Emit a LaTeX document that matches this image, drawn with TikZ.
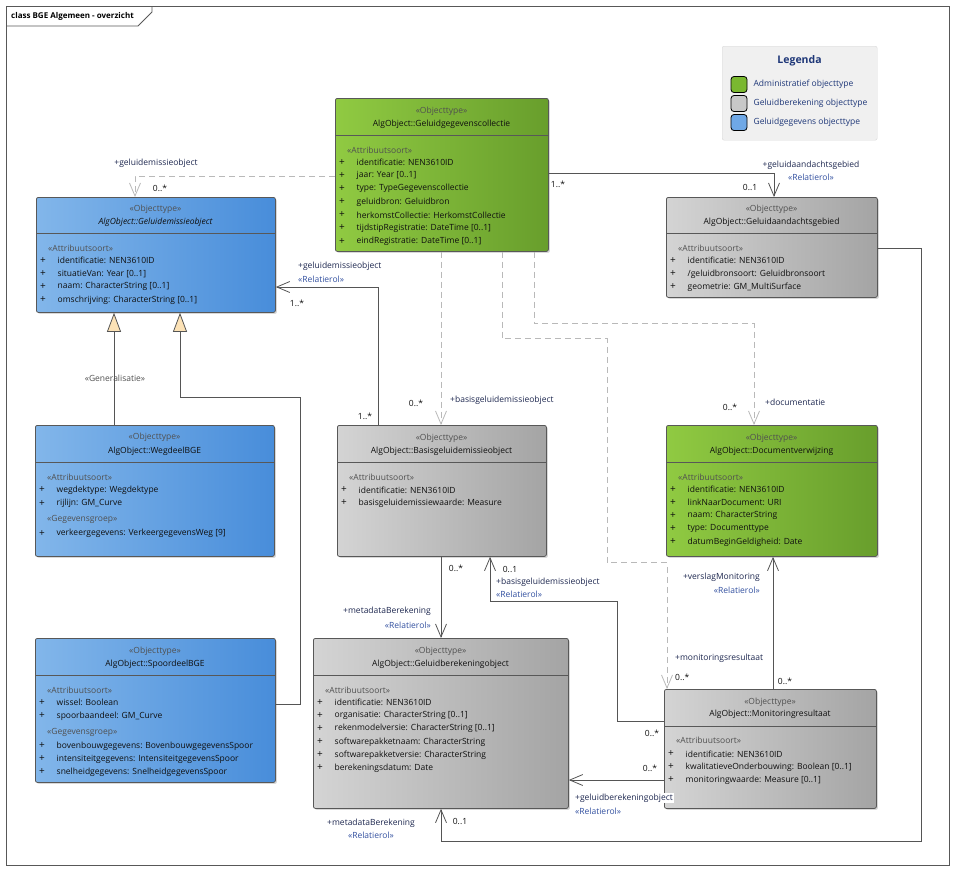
\documentclass[tikz,border=0pt]{standalone}
\usepackage{fontspec}
\setmainfont{Open Sans}
\usetikzlibrary{positioning, arrows.meta, shadows}
\definecolor{blueL}{RGB}{130,182,234}
\definecolor{blueR}{RGB}{72,141,218}
\definecolor{greenL}{RGB}{144,202,66}
\definecolor{greenR}{RGB}{104,158,44}
\definecolor{greyL}{RGB}{212,212,212}
\definecolor{greyR}{RGB}{164,164,164}
\definecolor{legG}{RGB}{122,184,48}
\definecolor{legR}{RGB}{200,200,200}
\definecolor{legB}{RGB}{111,168,230}
\definecolor{boxline}{RGB}{88,88,88}
\definecolor{conline}{RGB}{85,85,85}
\definecolor{dashline}{RGB}{185,185,185}
\definecolor{genfill}{RGB}{252,226,182}
\definecolor{stereocol}{RGB}{80,80,80}
\definecolor{textcol}{RGB}{15,15,15}
\definecolor{rolecol}{RGB}{30,40,80}
\definecolor{relcol}{RGB}{50,80,160}
\definecolor{legcol}{RGB}{30,55,120}
\tikzstyle{cls}=[rectangle, anchor=north west, inner sep=0, draw=boxline, line width=.8pt, rounded corners=2pt, drop shadow={shadow xshift=1.5pt, shadow yshift=-1.5pt, opacity=.3}]
\tikzstyle{blueclass}=[cls, left color=blueL, right color=blueR]
\tikzstyle{greenclass}=[cls, left color=greenL, right color=greenR]
\tikzstyle{greyclass}=[cls, left color=greyL, right color=greyR]
\tikzstyle{sepline}=[draw=boxline, line width=.8pt]
\tikzstyle{stereo}=[inner sep=0, text=stereocol]
\tikzstyle{cname}=[inner sep=0, text=textcol]
\tikzstyle{attrhead}=[anchor=west, inner sep=0, text=stereocol]
\tikzstyle{plusmark}=[inner sep=0, text=textcol, font=\fontsize{10}{10}\selectfont]
\tikzstyle{attr}=[anchor=west, inner sep=0, text=textcol]
\tikzstyle{assoc}=[conline, line width=.8pt, -{Straight Barb[length=13pt, width=11pt]}]
\tikzstyle{depend}=[dashline, line width=.8pt, dash pattern=on 6pt off 4pt, -{Straight Barb[length=13pt, width=11pt]}]
\tikzstyle{gen}=[conline, line width=.8pt, -{Triangle[length=19pt, width=14pt, fill=genfill]}]
\tikzstyle{role}=[inner sep=0, text=rolecol]
\tikzstyle{relrol}=[inner sep=0, text=relcol]
\tikzstyle{mult}=[inner sep=0, text=textcol]
\tikzstyle{swatch}=[rectangle, draw=black, line width=.8pt, rounded corners=3pt, minimum width=16pt, minimum height=16pt, inner sep=0]
\tikzstyle{legtext}=[inner sep=0, text=legcol]

\begin{document}
\begin{tikzpicture}[x=1pt, y=-1pt, font=\fontsize{8.5}{10}\selectfont]
\useasboundingbox[fill=white] (0,0) rectangle (955,871);
% frame
\draw[boxline, line width=.8pt] (6,6) rectangle (949,865);
\draw[boxline, line width=.8pt] (6,26) -- (138,26) -- (152,12) -- (152,6);
\node[anchor=west, inner sep=0, font=\fontsize{8}{10}\selectfont\bfseries] (title) at (11,16) {class BGE Algemeen - overzicht};

% legenda
\node[rectangle, anchor=north west, draw=black!15, fill=black!6, rounded corners=2pt, minimum width=155pt, minimum height=94pt, inner sep=0] (legend) at (722,46) {};
\node[font=\fontsize{10.5}{12}\selectfont\bfseries, text=legcol, inner sep=0] (legtitle) at (799.5,61) {Legenda};
\node[swatch, fill=legG] (legG) at (739,84.5) {};
\node[swatch, fill=legR] (legR) at (739,103.5) {};
\node[swatch, fill=legB] (legB) at (739,122.5) {};
\node[legtext, right=6pt of legG] (legGt) {Administratief objecttype};
\node[legtext, right=6pt of legR] (legRt) {Geluidberekening objecttype};
\node[legtext, right=6pt of legB] (legBt) {Geluidgegevens objecttype};

% Geluidemissieobject
\node[blueclass, minimum width=239pt, minimum height=115pt] (emis) at (36,197) {};
\draw[sepline] ([yshift=-36pt]emis.north west) -- ([yshift=-36pt]emis.north east);
\node[stereo] (emisS) at (155.5,209.5) {«Objecttype»};
\node[cname] (emisN) at (155.5,222.5) {\itshape AlgObject::Geluidemissieobject};
\node[attrhead] (emisH) at (48,248) {«Attribuutsoort»};
\foreach \a [count=\i] in {{identificatie: NEN3610ID}, {situatieVan: Year [0..1]}, {naam: CharacterString [0..1]}, {omschrijving: CharacterString [0..1]}}{
    \node[plusmark] (emisP\i) at (43,260.5+13.1*\i-13.1) {+};
    \node[attr] (emisA\i) at (57.5,260.5+13.1*\i-13.1) {\a};
}

% Geluidgegevenscollectie
\node[greenclass, minimum width=213pt, minimum height=153pt] (coll) at (335,98) {};
\draw[sepline] ([yshift=-37pt]coll.north west) -- ([yshift=-37pt]coll.north east);
\node[stereo] (collS) at (441.5,111) {«Objecttype»};
\node[cname] (collN) at (441.5,124) {AlgObject::Geluidgegevenscollectie};
\node[attrhead] (collH) at (347,150) {«Attribuutsoort»};
\foreach \a [count=\i] in {{identificatie: NEN3610ID}, {jaar: Year [0..1]}, {type: TypeGegevenscollectie}, {geluidbron: Geluidbron}, {herkomstCollectie: HerkomstCollectie}, {tijdstipRegistratie: DateTime [0..1]}, {eindRegistratie: DateTime [0..1]}}{
    \node[plusmark] (collP\i) at (342,162.5+13.1*\i-13.1) {+};
    \node[attr] (collA\i) at (356.5,162.5+13.1*\i-13.1) {\a};
}

% Geluidaandachtsgebied
\node[greyclass, minimum width=211pt, minimum height=100pt] (aand) at (666,197) {};
\draw[sepline] ([yshift=-36pt]aand.north west) -- ([yshift=-36pt]aand.north east);
\node[stereo] (aandS) at (771.5,209.5) {«Objecttype»};
\node[cname] (aandN) at (771.5,222) {AlgObject::Geluidaandachtsgebied};
\node[attrhead] (aandH) at (678,248) {«Attribuutsoort»};
\foreach \a [count=\i] in {{identificatie: NEN3610ID}, {/geluidbronsoort: Geluidbronsoort}, {geometrie: GM\_MultiSurface}}{
    \node[plusmark] (aandP\i) at (673,260.7+13.1*\i-13.1) {+};
    \node[attr] (aandA\i) at (687.5,260.7+13.1*\i-13.1) {\a};
}

% WegdeelBGE
\node[blueclass, minimum width=239pt, minimum height=131pt] (weg) at (35,425) {};
\draw[sepline] ([yshift=-37.5pt]weg.north west) -- ([yshift=-37.5pt]weg.north east);
\node[stereo] (wegS) at (154.5,437.5) {«Objecttype»};
\node[cname] (wegN) at (154.5,451) {AlgObject::WegdeelBGE};
\node[attrhead] (wegH) at (47,477) {«Attribuutsoort»};
\foreach \a [count=\i] in {{wegdektype: Wegdektype}, {rijlijn: GM\_Curve}}{
    \node[plusmark] (wegP\i) at (42,490+13.1*\i-13.1) {+};
    \node[attr] (wegA\i) at (56.5,490+13.1*\i-13.1) {\a};
}
\node[attrhead] (wegG) at (47,519.3) {«Gegevensgroep»};
\node[plusmark] (wegP3) at (42,533.3) {+};
\node[attr] (wegA3) at (56.5,533.3) {verkeergegevens: VerkeergegevensWeg [9]};

% SpoordeelBGE
\node[blueclass, minimum width=240pt, minimum height=144pt] (spoor) at (35,638) {};
\draw[sepline] ([yshift=-37pt]spoor.north west) -- ([yshift=-37pt]spoor.north east);
\node[stereo] (spoorS) at (155,651) {«Objecttype»};
\node[cname] (spoorN) at (155,664) {AlgObject::SpoordeelBGE};
\node[attrhead] (spoorH) at (47,690) {«Attribuutsoort»};
\foreach \a [count=\i] in {{wissel: Boolean}, {spoorbaandeel: GM\_Curve}}{
    \node[plusmark] (spoorP\i) at (42,702.7+13.1*\i-13.1) {+};
    \node[attr] (spoorA\i) at (56.5,702.7+13.1*\i-13.1) {\a};
}
\node[attrhead] (spoorG) at (47,732.7) {«Gegevensgroep»};
\foreach \a [count=\i] in {{bovenbouwgegevens: BovenbouwgegevensSpoor}, {intensiteitgegevens: IntensiteitgegevensSpoor}, {snelheidgegevens: SnelheidgegevensSpoor}}{
    \node[plusmark] (spoorQ\i) at (42,746+12.9*\i-12.9) {+};
    \node[attr] (spoorB\i) at (56.5,746+12.9*\i-12.9) {\a};
}

% Basisgeluidemissieobject
\node[greyclass, minimum width=209pt, minimum height=131pt] (basis) at (337,425) {};
\draw[sepline] ([yshift=-37pt]basis.north west) -- ([yshift=-37pt]basis.north east);
\node[stereo] (basisS) at (441.5,438) {«Objecttype»};
\node[cname] (basisN) at (441.5,451) {AlgObject::Basisgeluidemissieobject};
\node[attrhead] (basisH) at (349,477) {«Attribuutsoort»};
\foreach \a [count=\i] in {{identificatie: NEN3610ID}, {basisgeluidemissiewaarde: Measure}}{
    \node[plusmark] (basisP\i) at (344,490+13*\i-13) {+};
    \node[attr] (basisA\i) at (358.5,490+13*\i-13) {\a};
}

% Documentverwijzing
\node[greenclass, minimum width=211pt, minimum height=131pt] (doc) at (666,425) {};
\draw[sepline] ([yshift=-37pt]doc.north west) -- ([yshift=-37pt]doc.north east);
\node[stereo] (docS) at (771.5,438) {«Objecttype»};
\node[cname] (docN) at (771.5,451) {AlgObject::Documentverwijzing};
\node[attrhead] (docH) at (678,477) {«Attribuutsoort»};
\foreach \a [count=\i] in {{identificatie: NEN3610ID}, {linkNaarDocument: URI}, {naam: CharacterString}, {type: Documenttype}, {datumBeginGeldigheid: Date}}{
    \node[plusmark] (docP\i) at (673,489.5+13.1*\i-13.1) {+};
    \node[attr] (docA\i) at (687.5,489.5+13.1*\i-13.1) {\a};
}

% Geluidberekeningobject
\node[greyclass, minimum width=255pt, minimum height=170pt] (ber) at (313,638) {};
\draw[sepline] ([yshift=-37pt]ber.north west) -- ([yshift=-37pt]ber.north east);
\node[stereo] (berS) at (440.5,651) {«Objecttype»};
\node[cname] (berN) at (440.5,664) {AlgObject::Geluidberekeningobject};
\node[attrhead] (berH) at (325,690.5) {«Attribuutsoort»};
\foreach \a [count=\i] in {{identificatie: NEN3610ID}, {organisatie: CharacterString [0..1]}, {rekenmodelversie: CharacterString [0..1]}, {softwarepakketnaam: CharacterString}, {softwarepakketversie: CharacterString}, {berekeningsdatum: Date}}{
    \node[plusmark] (berP\i) at (320,702.5+13.1*\i-13.1) {+};
    \node[attr] (berA\i) at (334.5,702.5+13.1*\i-13.1) {\a};
}

% Monitoringresultaat
\node[greyclass, minimum width=212pt, minimum height=119pt] (mon) at (664,689) {};
\draw[sepline] ([yshift=-37pt]mon.north west) -- ([yshift=-37pt]mon.north east);
\node[stereo] (monS) at (770,702) {«Objecttype»};
\node[cname] (monN) at (770,714.7) {AlgObject::Monitoringresultaat};
\node[attrhead] (monH) at (676,740) {«Attribuutsoort»};
\foreach \a [count=\i] in {{identificatie: NEN3610ID}, {kwalitatieveOnderbouwing: Boolean [0..1]}, {monitoringwaarde: Measure [0..1]}}{
    \node[plusmark] (monP\i) at (671,754+13*\i-13) {+};
    \node[attr] (monA\i) at (685.5,754+13*\i-13) {\a};
}

% generalisatie
\draw[gen] ([xshift=79pt]weg.north west) -- ([xshift=78pt]emis.south west);
\draw[gen] ([yshift=-66pt]spoor.north east) -- ++(25,0) -- ++(0,-307) -| ([xshift=144pt]emis.south west);
\node[stereo] (g1) at (115,378) {«Generalisatie»};

% collectie -> geluidemissieobject
\draw[depend] ([yshift=-78pt]coll.north west) -| ([xshift=99pt]emis.north west);
\node[role] (r1) at (156,163) {+geluidemissieobject};
\node[mult] (m1) at (160,188) {0..*};

% collectie -> geluidaandachtsgebied
\draw[assoc] ([yshift=-75pt]coll.north east) -| ([xshift=108pt]aand.north west);
\node[mult] (m2) at (558,184) {1..*};
\node[mult] (m3) at (750,187) {0..1};
\node[role] (r2) at (811,165) {+geluidaandachtsgebied};
\node[relrol] (q2) at (811,177.5) {«Relatierol»};

% basis -> geluidemissieobject
\draw[assoc] ([xshift=41pt]basis.north west) |- ([yshift=-90pt]emis.north east);
\node[role, anchor=west] (r3) at (298,266) {+geluidemissieobject};
\node[relrol, anchor=west] (q3) at (298,279) {«Relatierol»};
\node[mult] (m4) at (297,303) {1..*};
\node[mult] (m5) at (365,416) {1..*};

% collectie -> basis
\draw[depend] ([xshift=106pt]coll.south west) -- ([xshift=104pt]basis.north west);
\node[mult] (m6) at (416,403) {0..*};
\node[role, anchor=west] (r4) at (450,400) {+basisgeluidemissieobject};

% collectie -> documentverwijzing
\draw[depend] ([xshift=199pt]coll.south west) -- ++(0,72) -| ([xshift=88pt]doc.north west);
\node[mult] (m7) at (730,407) {0..*};
\node[role, anchor=west] (r5) at (765,402) {+documentatie};

% collectie -> monitoringresultaat
\draw[depend] ([xshift=167pt]coll.south west) -- ++(0,87) -- ++(105,0) -- ++(0,224) -| ([xshift=3pt]mon.north west);
\node[role, anchor=west] (r6) at (675,658) {+monitoringsresultaat};
\node[mult, anchor=west] (m8) at (675,677) {0..*};

% basis -> geluidberekeningobject
\draw[assoc] ([xshift=104pt]basis.south west) -- ([xshift=128pt]ber.north west);
\node[mult] (m9) at (456,568) {0..*};
\node[role, anchor=east] (r7) at (431,611) {+metadataBerekening};
\node[relrol, anchor=east] (q7) at (431,625) {«Relatierol»};

% monitoringresultaat -> basis
\draw[assoc] ([yshift=-32pt]mon.north west) -- ++(-47,0) -- ++(0,-120) -| ([xshift=153pt]basis.south west);
\node[mult] (m10) at (510,569) {0..1};
\node[role, anchor=west] (r8) at (496,582) {+basisgeluidemissieobject};
\node[relrol, anchor=west] (q8) at (496,594.5) {«Relatierol»};
\node[mult] (m11) at (652,733) {0..*};

% monitoringresultaat -> documentverwijzing
\draw[assoc] ([xshift=109pt]mon.north west) -- ([xshift=107pt]doc.south west);
\node[role, anchor=east] (r9) at (760,577) {+verslagMonitoring};
\node[relrol, anchor=east] (q9) at (760,590) {«Relatierol»};
\node[mult] (m12) at (785,681) {0..*};

% monitoringresultaat -> geluidberekeningobject
\draw[assoc] ([yshift=-91pt]mon.north west) -- ([yshift=-142pt]ber.north east);
\node[mult] (m13) at (650,768) {0..*};
\node[role, anchor=west, fill=white, inner sep=1pt] (r10) at (574,798) {+geluidberekeningobject};
\node[relrol, anchor=west] (q10) at (575,811) {«Relatierol»};

% geluidaandachtsgebied -> geluidberekeningobject
\draw[assoc] ([yshift=-51pt]aand.north east) -- ++(44,0) -- ++(0,593) -| ([xshift=128pt]ber.south west);
\node[mult] (m14) at (460,821) {0..1};
\node[role] (r11) at (371,823) {+metadataBerekening};
\node[relrol] (q11) at (371,835.5) {«Relatierol»};
\end{tikzpicture}
\end{document}
